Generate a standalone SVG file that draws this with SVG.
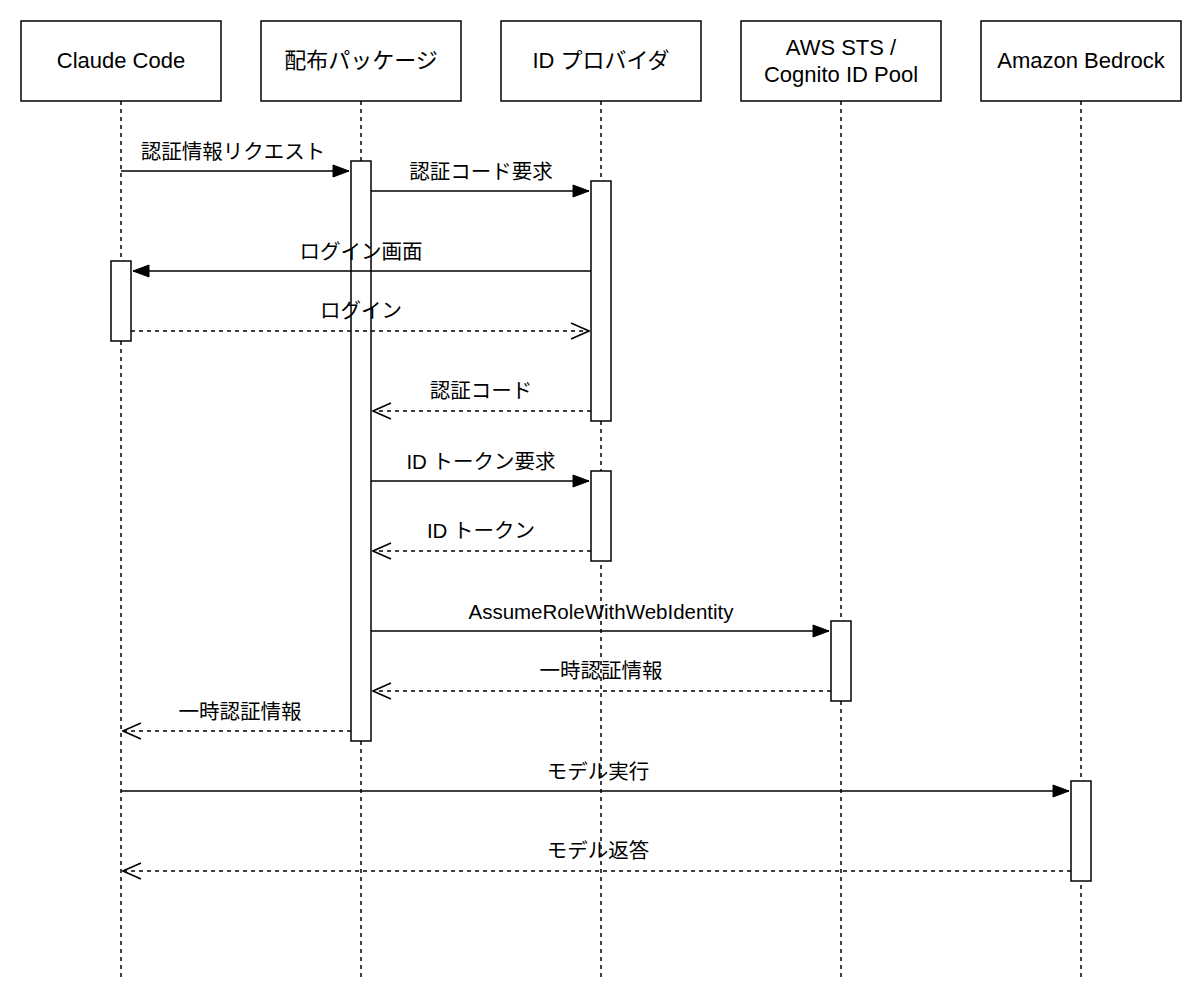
<svg xmlns="http://www.w3.org/2000/svg" width="1202" height="1004" viewBox="0 0 1202 1004">
<style>
text{font-family:"Liberation Sans","Noto Sans CJK JP",sans-serif;fill:#000;text-anchor:middle}
.h{font-size:22px}
.l{font-size:20.5px}
.box{fill:#fff;stroke:#000;stroke-width:1.5}
.life{stroke:#000;stroke-width:1.5;stroke-dasharray:4 4;fill:none}
.s{stroke:#000;stroke-width:1.5;fill:none}
.d{stroke:#000;stroke-width:1.5;fill:none;stroke-dasharray:4 4}
</style>
<defs>
<marker id="f" markerWidth="18" markerHeight="14" refX="17" refY="7" orient="auto" markerUnits="userSpaceOnUse"><path d="M1,1 L17,7 L1,13 Z" fill="#000" stroke="#000"/></marker>
<marker id="o" markerWidth="20" markerHeight="18" refX="19" refY="9" orient="auto" markerUnits="userSpaceOnUse"><path d="M1,1 L19,9 L1,17" fill="none" stroke="#000" stroke-width="1.5"/></marker>
</defs>
<rect width="1202" height="1004" fill="#fff"/>
<g id="lifelines">
<line class="life" x1="121" y1="101" x2="121" y2="980"/>
<line class="life" x1="361" y1="101" x2="361" y2="980"/>
<line class="life" x1="601" y1="101" x2="601" y2="980"/>
<line class="life" x1="841" y1="101" x2="841" y2="980"/>
<line class="life" x1="1081" y1="101" x2="1081" y2="980"/>
</g>
<g id="n-claude"><rect class="box" x="21" y="21" width="200" height="80"/><text class="h" x="121" y="68">Claude Code</text></g>
<g id="n-pkg"><rect class="box" x="261" y="21" width="200" height="80"/><text class="h" x="361" y="68">配布パッケージ</text></g>
<g id="n-idp"><rect class="box" x="501" y="21" width="200" height="80"/><text class="h" x="601" y="68">ID プロバイダ</text></g>
<g id="n-sts"><rect class="box" x="741" y="21" width="200" height="80"/><text class="h" x="841" y="55">AWS STS /</text><text class="h" x="841" y="82">Cognito ID Pool</text></g>
<g id="n-bedrock"><rect class="box" x="981" y="21" width="200" height="80"/><text class="h" x="1081" y="68">Amazon Bedrock</text></g>
<g id="activations">
<rect class="box" x="351" y="161" width="20" height="580"/>
<rect class="box" x="591" y="181" width="20" height="240"/>
<rect class="box" x="591" y="471" width="20" height="90"/>
<rect class="box" x="111" y="261" width="20" height="80"/>
<rect class="box" x="831" y="621" width="20" height="80"/>
<rect class="box" x="1071" y="781" width="20" height="100"/>
</g>
<g id="connectors">
<line class="s" x1="121" y1="171" x2="349" y2="171" marker-end="url(#f)"/>
<line class="s" x1="371" y1="191" x2="589" y2="191" marker-end="url(#f)"/>
<line class="s" x1="591" y1="271" x2="133" y2="271" marker-end="url(#f)"/>
<line class="d" x1="131" y1="331" x2="589" y2="331" marker-end="url(#o)"/>
<line class="d" x1="591" y1="411" x2="373" y2="411" marker-end="url(#o)"/>
<line class="s" x1="371" y1="481" x2="589" y2="481" marker-end="url(#f)"/>
<line class="d" x1="591" y1="551" x2="373" y2="551" marker-end="url(#o)"/>
<line class="s" x1="371" y1="631" x2="829" y2="631" marker-end="url(#f)"/>
<line class="d" x1="831" y1="691" x2="373" y2="691" marker-end="url(#o)"/>
<line class="d" x1="351" y1="731" x2="123" y2="731" marker-end="url(#o)"/>
<line class="s" x1="121" y1="791" x2="1069" y2="791" marker-end="url(#f)"/>
<line class="d" x1="1071" y1="871" x2="123" y2="871" marker-end="url(#o)"/>
</g>
<g id="labels">
<text class="l" x="233" y="159">認証情報リクエスト</text>
<text class="l" x="481" y="179">認証コード要求</text>
<text class="l" x="361" y="259">ログイン画面</text>
<text class="l" x="361" y="318">ログイン</text>
<text class="l" x="481" y="398">認証コード</text>
<text class="l" x="481" y="469">ID トークン要求</text>
<text class="l" x="481" y="538">ID トークン</text>
<text class="l" x="601" y="619">AssumeRoleWithWebIdentity</text>
<text class="l" x="601" y="678">一時認証情報</text>
<text class="l" x="240" y="719">一時認証情報</text>
<text class="l" x="598" y="779">モデル実行</text>
<text class="l" x="598" y="858">モデル返答</text>
</g>
</svg>
